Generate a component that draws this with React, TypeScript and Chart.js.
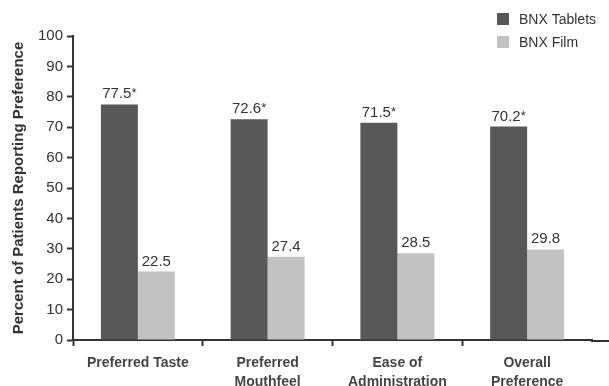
import React, { useEffect, useRef } from "react";
import { Chart, registerables } from "chart.js";

Chart.register(...registerables);

const categories: string[][] = [
  ["Preferred Taste"],
  ["Preferred", "Mouthfeel"],
  ["Ease of", "Administration"],
  ["Overall", "Preference"],
];
const seriesNames = ["BNX Tablets", "BNX Film"];
const tabletValues = [77.5, 72.6, 71.5, 70.2];
const filmValues = [22.5, 27.4, 28.5, 29.8];
const tabletSignificant = [true, true, true, true];
const filmSignificant = [false, false, false, false];
const yAxisTitle = "Percent of Patients Reporting Preference";
const yMin = 0;
const yMax = 100;
const yStep = 10;

const DARK = "#58585a";
const LIGHT = "#c1c2c4";
const TEXT = "#333333";
const FONT = '"Liberation Sans", Arial, sans-serif';

const valueLabelPlugin = {
  id: "valueLabels",
  afterDatasetsDraw(chart: any) {
    const ctx = chart.ctx;
    const sigs = [tabletSignificant, filmSignificant];
    ctx.save();
    chart.data.datasets.forEach((ds: any, di: number) => {
      const meta = chart.getDatasetMeta(di);
      meta.data.forEach((bar: any, i: number) => {
        const v = ds.data[i];
        const main = v.toFixed(1);
        const star = sigs[di][i] ? "*" : "";
        ctx.font = `15px ${FONT}`;
        const wMain = ctx.measureText(main).width;
        ctx.font = `13px ${FONT}`;
        const wStar = star ? ctx.measureText(star).width : 0;
        const total = wMain + wStar;
        const x0 = bar.x - total / 2;
        const yb = bar.y - 6;
        ctx.fillStyle = TEXT;
        ctx.textAlign = "left";
        ctx.textBaseline = "alphabetic";
        ctx.font = `15px ${FONT}`;
        ctx.fillText(main, x0, yb);
        if (star) {
          ctx.font = `13px ${FONT}`;
          ctx.fillText(star, x0 + wMain, yb - 1);
        }
      });
    });
    ctx.restore();
  },
};

const extrasPlugin = {
  id: "extras",
  afterDraw(chart: any) {
    const ctx = chart.ctx;
    const area = chart.chartArea;
    ctx.save();
    ctx.strokeStyle = TEXT;
    ctx.lineWidth = 2;
    ctx.beginPath();
    ctx.moveTo(area.right - 1, area.bottom + 1);
    ctx.lineTo(chart.width, area.bottom + 1);
    ctx.stroke();
    const colors = [DARK, LIGHT];
    const lx = 497;
    const ys = [19, 42];
    ctx.font = `14px ${FONT}`;
    ctx.textAlign = "left";
    ctx.textBaseline = "middle";
    seriesNames.forEach((name, i) => {
      ctx.fillStyle = colors[i];
      ctx.fillRect(lx, ys[i] - 6, 12, 12);
      ctx.fillStyle = TEXT;
      ctx.fillText(name, lx + 22, ys[i] + 1);
    });
    ctx.restore();
  },
};

export default function App() {
  const ref = useRef<HTMLCanvasElement | null>(null);

  useEffect(() => {
    document.body.style.margin = "0";
    if (!ref.current) return;
    const chart = new Chart(ref.current, {
      type: "bar",
      data: {
        labels: categories,
        datasets: [
          {
            label: seriesNames[0],
            data: tabletValues,
            backgroundColor: DARK,
            categoryPercentage: 0.57,
            barPercentage: 1,
          },
          {
            label: seriesNames[1],
            data: filmValues,
            backgroundColor: LIGHT,
            categoryPercentage: 0.57,
            barPercentage: 1,
          },
        ],
      },
      options: {
        animation: false,
        responsive: true,
        maintainAspectRatio: false,
        layout: { padding: { left: 0, top: 36, right: 17, bottom: 0 } },
        plugins: {
          legend: { display: false },
          tooltip: { enabled: false },
        },
        scales: {
          x: {
            grid: {
              display: true,
              drawOnChartArea: false,
              drawTicks: true,
              tickLength: 6,
              tickWidth: 2,
              color: (c: any) => (c.type === "tick" ? TEXT : "rgba(0,0,0,0)"),
              offset: true,
            },
            border: { display: true, color: TEXT, width: 2 },
            ticks: {
              color: "#444444",
              font: { family: FONT, size: 14, weight: "bold", lineHeight: 1.35 },
              padding: 8,
              maxRotation: 0,
              autoSkip: false,
            },
            afterFit: (scale: any) => {
              scale.height = 46;
            },
          },
          y: {
            min: yMin,
            max: yMax,
            grid: {
              display: true,
              drawOnChartArea: false,
              drawTicks: true,
              tickLength: 6,
              tickWidth: 2,
              color: TEXT,
            },
            border: { display: true, color: TEXT, width: 2 },
            ticks: {
              stepSize: yStep,
              color: TEXT,
              font: { family: FONT, size: 15 },
              padding: 4,
            },
            title: {
              display: true,
              text: yAxisTitle,
              color: TEXT,
              font: { family: FONT, size: 15, weight: "bold" },
              padding: { top: 10, bottom: 0 },
            },
            afterFit: (scale: any) => {
              scale.width = 73;
            },
          },
        },
      },
      plugins: [valueLabelPlugin, extrasPlugin],
    });
    return () => chart.destroy();
  }, []);

  return (
    <div style={{ width: 609, height: 386, position: "relative" }}>
      <canvas ref={ref} />
    </div>
  );
}
